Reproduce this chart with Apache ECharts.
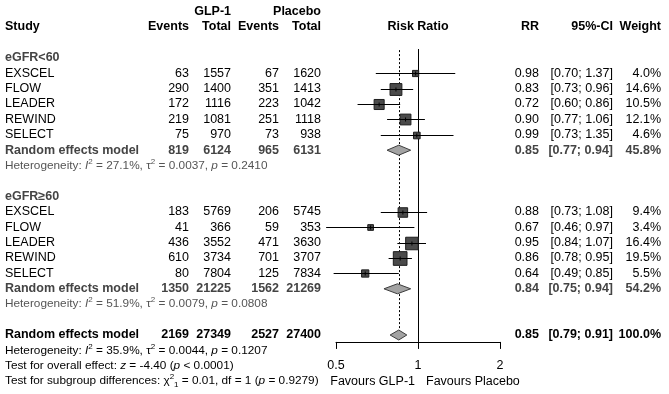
<!DOCTYPE html>
<html>
<head>
<meta charset="utf-8">
<script src="https://cdn.jsdelivr.net/npm/echarts@6/dist/echarts.min.js"></script>
<style>
  html, body { margin: 0; padding: 0; background: #fff; }
  #chart { width: 669px; height: 394px; }
</style>
</head>
<body>
<div id="chart"></div>
<script>
// data
var studies = ['EXSCEL', 'FLOW', 'LEADER', 'REWIND', 'SELECT'];
var groupLabels = ['eGFR<60', 'eGFR\u226560'];
var glpEvents = [[63, 290, 172, 219, 75], [183, 41, 436, 610, 80]];
var glpTotal = [[1557, 1400, 1116, 1081, 970], [5769, 366, 3552, 3734, 7804]];
var plcEvents = [[67, 351, 223, 251, 73], [206, 59, 471, 701, 125]];
var plcTotal = [[1620, 1413, 1042, 1118, 938], [5745, 353, 3630, 3707, 7834]];
var rr = [[0.98, 0.83, 0.72, 0.90, 0.99], [0.88, 0.67, 0.95, 0.86, 0.64]];
var ciLow = [[0.70, 0.73, 0.60, 0.77, 0.73], [0.73, 0.46, 0.84, 0.78, 0.49]];
var ciHigh = [[1.37, 0.96, 0.86, 1.06, 1.35], [1.08, 0.97, 1.07, 0.95, 0.85]];
var weight = [[4.0, 14.6, 10.5, 12.1, 4.6], [9.4, 3.4, 16.4, 19.5, 5.5]];

// subgroup random effects
var subGlpEvents = [819, 1350];
var subGlpTotal = [6124, 21225];
var subPlcEvents = [965, 1562];
var subPlcTotal = [6131, 21269];
var subRR = [0.85, 0.84];
var subLow = [0.77, 0.75];
var subHigh = [0.94, 0.94];
var subWeight = [45.8, 54.2];

// heterogeneity: group 1, group 2, overall
var hetI2 = ['27.1%', '51.9%', '35.9%'];
var hetTau2 = ['0.0037', '0.0079', '0.0044'];
var hetP = ['0.2410', '0.0808', '0.1207'];

// overall random effects
var overallCounts = [2169, 27349, 2527, 27400];
var overallRR = 0.85, overallLow = 0.79, overallHigh = 0.91, overallWeight = 100.0;
var overallZ = '-4.40', overallP = '< 0.0001';
var subgroupChi = '0.01', subgroupDf = 1, subgroupP = '0.9279';
var nullValue = 1;

var FONT = '"Liberation Sans", Arial, sans-serif';
var F_MAIN = '12.5px ' + FONT;
var F_BOLD = 'bold 12.5px ' + FONT;
var F_SMALL = '11.8px ' + FONT;

// columns (pixel x, alignment)
var cols = {
    study: [5, 'left'], ge: [189, 'right'], gt: [231, 'right'],
    pe: [279, 'right'], pt: [321, 'right'],
    rr: [539, 'right'], ci: [613, 'right'], w: [661, 'right']
};

// row grid: row -1.5 at top, axis line sits at row 20.45
var rowH = 15.4, rowMin = -1.5, rowAxis = 20.45, gridTop = 3.9;

function ciText(lo, hi) { return '[' + lo.toFixed(2) + '; ' + hi.toFixed(2) + ']'; }
function hetText(k) {
    return '{n|Heterogeneity: }{i|I}{s|2}{n| = ' + hetI2[k] + ', \u03c4}{s|2}{n| = ' + hetTau2[k] +
        ', }{i|p}{n| = ' + hetP[k] + '}';
}

// table text rows
var textRows = [];
var studyPts = [];
var diamonds = [];

textRows.push({row: -1, cells: [['gt', 'GLP-1', F_BOLD], ['pt', 'Placebo', F_BOLD]]});
textRows.push({row: 0, cells: [['study', 'Study', F_BOLD], ['ge', 'Events', F_BOLD], ['gt', 'Total', F_BOLD],
    ['pe', 'Events', F_BOLD], ['pt', 'Total', F_BOLD], ['rr', 'RR', F_BOLD], ['ci', '95%-CI', F_BOLD],
    ['w', 'Weight', F_BOLD], ['null', 'Risk Ratio', F_BOLD]]});

for (var g = 0; g < 2; g++) {
    var base = 2 + g * 9;
    textRows.push({row: base, color: '#444', cells: [['study', groupLabels[g], F_BOLD]]});
    for (var i = 0; i < studies.length; i++) {
        var r = base + 1 + i;
        textRows.push({row: r, cells: [['study', studies[i], F_MAIN], ['ge', String(glpEvents[g][i]), F_MAIN],
            ['gt', String(glpTotal[g][i]), F_MAIN], ['pe', String(plcEvents[g][i]), F_MAIN],
            ['pt', String(plcTotal[g][i]), F_MAIN], ['rr', rr[g][i].toFixed(2), F_MAIN],
            ['ci', ciText(ciLow[g][i], ciHigh[g][i]), F_MAIN], ['w', weight[g][i].toFixed(1) + '%', F_MAIN]]});
        studyPts.push([rr[g][i], r, ciLow[g][i], ciHigh[g][i], weight[g][i]]);
    }
    textRows.push({row: base + 6, color: '#444', cells: [['study', 'Random effects model', F_BOLD],
        ['ge', String(subGlpEvents[g]), F_BOLD], ['gt', String(subGlpTotal[g]), F_BOLD],
        ['pe', String(subPlcEvents[g]), F_BOLD], ['pt', String(subPlcTotal[g]), F_BOLD],
        ['rr', subRR[g].toFixed(2), F_BOLD], ['ci', ciText(subLow[g], subHigh[g]), F_BOLD],
        ['w', subWeight[g].toFixed(1) + '%', F_BOLD]]});
    diamonds.push([subRR[g], base + 6, subLow[g], subHigh[g]]);
    textRows.push({row: base + 7, color: '#555', cells: [['study', hetText(g), F_SMALL]]});
}

textRows.push({row: 20, cells: [['study', 'Random effects model', F_BOLD],
    ['ge', String(overallCounts[0]), F_BOLD], ['gt', String(overallCounts[1]), F_BOLD],
    ['pe', String(overallCounts[2]), F_BOLD], ['pt', String(overallCounts[3]), F_BOLD],
    ['rr', overallRR.toFixed(2), F_BOLD], ['ci', ciText(overallLow, overallHigh), F_BOLD],
    ['w', overallWeight.toFixed(1) + '%', F_BOLD]]});
diamonds.push([overallRR, 20, overallLow, overallHigh]);
textRows.push({row: 21, cells: [['study', hetText(2), F_SMALL]]});
textRows.push({row: 22, cells: [['study', '{n|Test for overall effect: }{i|z}{n| = ' + overallZ + ' (}{i|p}{n| ' + overallP + ')}', F_SMALL]]});
textRows.push({row: 23, cells: [['study', '{n|Test for subgroup differences: \u03c7}{s|2}{b|1}{n| = ' + subgroupChi +
    ', df = ' + subgroupDf + ' (}{i|p}{n| = ' + subgroupP + ')}', F_SMALL],
    ['favL', 'Favours GLP-1', F_MAIN], ['favR', 'Favours Placebo', F_MAIN]]});

var refLines = [[nullValue, 1.43, rowAxis, 0], [overallRR, 1.5, 20, 1]];

var sqScale = 3.1;

function px(v) { return Math.round(v) + 0.5; }

var chart = echarts.init(document.getElementById('chart'));

var gridH = (rowAxis - rowMin) * rowH;

chart.setOption({
    animation: false,
    grid: {left: 336, right: 169, top: gridTop, bottom: 394 - gridTop - gridH},
    xAxis: {
        type: 'log', logBase: 2, min: 0.5, max: 2,
        position: 'bottom',
        axisLine: {onZero: false, lineStyle: {color: '#000', width: 1}},
        axisTick: {length: 7, lineStyle: {color: '#000'}},
        axisLabel: {margin: 17, color: '#000', fontSize: 12.5, fontFamily: FONT,
            formatter: function (v) { return String(+v.toFixed(2)); }},
        splitLine: {show: false}
    },
    yAxis: {type: 'value', inverse: true, min: rowMin, max: rowAxis, show: false},
    series: [
        {
            type: 'custom', name: 'ref', z: 1,
            data: refLines,
            encode: {x: 0, y: 1},
            renderItem: function (params, api) {
                var a = api.coord([api.value(0), api.value(1)]);
                var b = api.coord([api.value(0), api.value(2)]);
                var x = px(a[0]);
                return {type: 'line', shape: {x1: x, y1: a[1], x2: x, y2: b[1]},
                    style: {stroke: '#000', lineWidth: 1, lineDash: api.value(3) ? [2, 2] : null}};
            }
        },
        {
            type: 'custom', name: 'studies', z: 3,
            data: studyPts,
            encode: {x: 0, y: 1},
            renderItem: function (params, api) {
                var row = api.value(1);
                var c = api.coord([api.value(0), row]);
                var l = api.coord([api.value(2), row]);
                var h = api.coord([api.value(3), row]);
                var s = sqScale * Math.sqrt(api.value(4));
                var y = px(c[1]);
                return {type: 'group', children: [
                    {type: 'rect', shape: {x: c[0] - s / 2, y: y - s / 2, width: s, height: s},
                        style: {fill: '#4a4a4a', stroke: '#1e1e1e', lineWidth: 1}},
                    {type: 'line', shape: {x1: l[0], y1: y, x2: h[0], y2: y},
                        style: {stroke: '#000', lineWidth: 1}},
                    {type: 'line', shape: {x1: c[0], y1: y - 2, x2: c[0], y2: y + 2},
                        style: {stroke: '#000', lineWidth: 1}}
                ]};
            }
        },
        {
            type: 'custom', name: 'diamonds', z: 4,
            data: diamonds,
            encode: {x: 0, y: 1},
            renderItem: function (params, api) {
                var row = api.value(1);
                var c = api.coord([api.value(0), row]);
                var l = api.coord([api.value(2), row]);
                var h = api.coord([api.value(3), row]);
                return {type: 'polygon',
                    shape: {points: [[l[0], c[1]], [c[0], c[1] - 5], [h[0], c[1]], [c[0], c[1] + 5]]},
                    style: {fill: '#a3a3a3', stroke: '#3c3c3c', lineWidth: 1}};
            }
        },
        {
            type: 'custom', name: 'table', z: 5,
            data: textRows.map(function (t) { return [nullValue, t.row]; }),
            encode: {x: 0, y: 1},
            renderItem: function (params, api) {
                var t = textRows[params.dataIndex];
                var p = api.coord([nullValue, t.row]);
                var y = p[1];
                var fill = t.color || '#000';
                var children = t.cells.map(function (cell) {
                    var x, align;
                    if (cell[0] === 'null') { x = p[0]; align = 'center'; }
                    else if (cell[0] === 'favL') { x = p[0] - 3; align = 'right'; }
                    else if (cell[0] === 'favR') { x = p[0] + 8; align = 'left'; }
                    else { x = cols[cell[0]][0]; align = cols[cell[0]][1]; }
                    var small = cell[2] === F_SMALL;
                    return {type: 'text', style: {
                        x: x, y: y, text: cell[1], font: cell[2], fill: fill,
                        align: align, verticalAlign: 'middle',
                        rich: small ? {
                            n: {font: F_SMALL, lineHeight: 16},
                            i: {font: 'italic ' + F_SMALL, lineHeight: 16},
                            s: {font: '8px ' + FONT, verticalAlign: 'top'},
                            b: {font: '8px ' + FONT, verticalAlign: 'bottom'}
                        } : undefined
                    }};
                });
                return {type: 'group', children: children};
            }
        }
    ]
});
</script>
</body>
</html>
